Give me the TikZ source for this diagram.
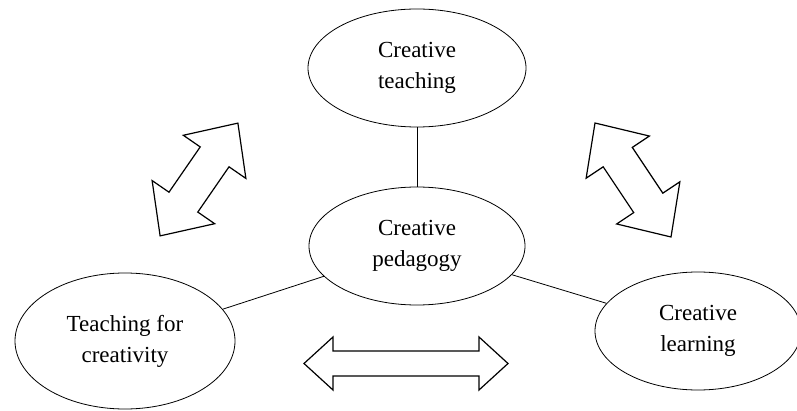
\documentclass[tikz,border=0pt]{standalone}
\usepackage{fontspec}
\setmainfont{Liberation Serif}
\usetikzlibrary{shapes.geometric}

\tikzset{
  idea/.style={draw, ellipse, line width=0.8pt, align=center, inner sep=0pt,
    font=\fontsize{23}{31}\selectfont},
  link/.style={draw, line width=0.8pt},
  fatarrow/.style={draw, line width=1.2pt, line join=miter}
}

\begin{document}
\begin{tikzpicture}[x=1pt, y=-1pt]
\useasboundingbox (0,0) rectangle (797,411);
\node[idea, minimum width=218pt, minimum height=118pt] (teach) at (417,68) {Creative\\teaching};
\node[idea, minimum width=216pt, minimum height=118pt] (peda) at (417,246) {Creative\\pedagogy};
\node[idea, minimum width=220pt, minimum height=136pt] (tfc) at (125,341) {Teaching for\\creativity};
\node[idea, minimum width=206pt, minimum height=118pt] (learn) at (698,331) {Creative\\learning};
\path[link] (teach) -- (peda);
\path[link] (peda) -- (tfc);
\path[link] (peda) -- (learn);
% two-headed arrows
\begin{scope}[shift={(199,179.5)}, rotate=55.4]
\draw[fatarrow] (-68.5,0) -- (-27.5,38) -- (-27.5,17.5) -- (27.5,17.5) -- (27.5,38)
  -- (68.5,0) -- (27.5,-38) -- (27.5,-17.5) -- (-27.5,-17.5) -- (-27.5,-38) -- cycle;
\end{scope}
\begin{scope}[shift={(633,180)}, rotate=-56.3]
\draw[fatarrow] (-68.5,0) -- (-27.5,38) -- (-27.5,17.5) -- (27.5,17.5) -- (27.5,38)
  -- (68.5,0) -- (27.5,-38) -- (27.5,-17.5) -- (-27.5,-17.5) -- (-27.5,-38) -- cycle;
\end{scope}
\begin{scope}[shift={(406,363.5)}]
\draw[fatarrow] (-102,0) -- (-73,26.5) -- (-73,12.5) -- (73,12.5) -- (73,26.5)
  -- (102,0) -- (73,-26.5) -- (73,-12.5) -- (-73,-12.5) -- (-73,-26.5) -- cycle;
\end{scope}
\end{tikzpicture}
\end{document}
